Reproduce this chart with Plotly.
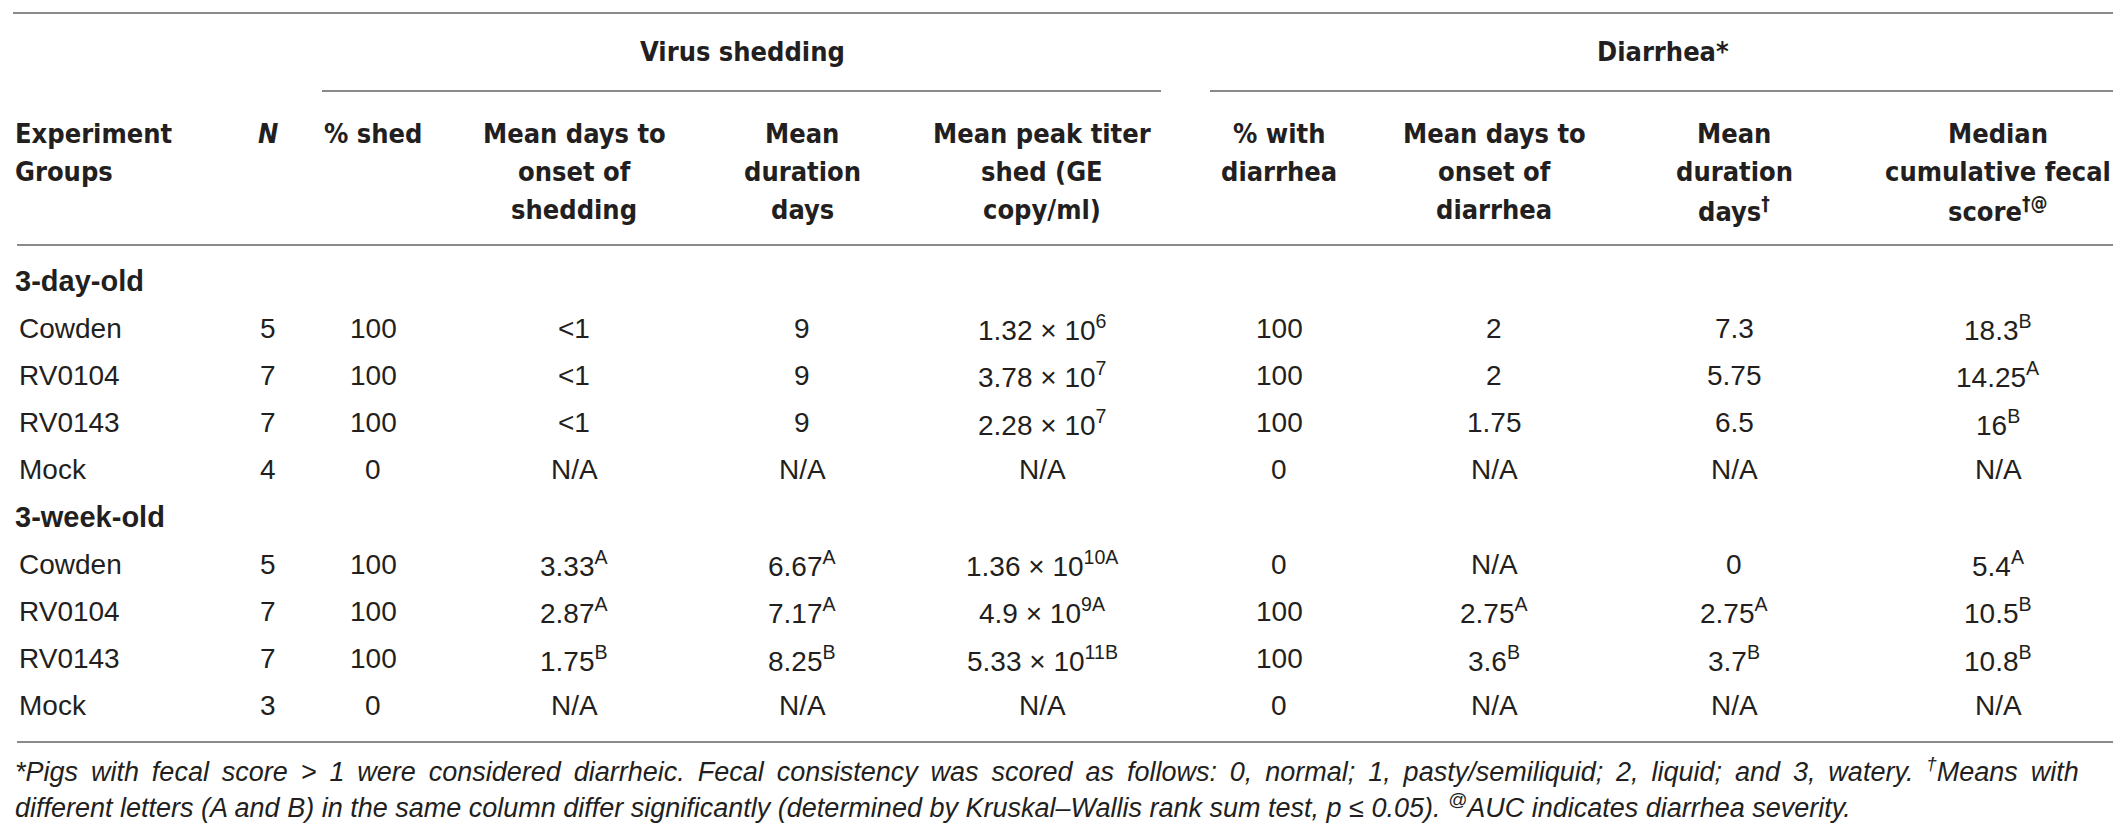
import plotly.graph_objects as go

# 表格数据
groups = ["3-day-old", "3-week-old"]
strains = ["Cowden", "RV0104", "RV0143", "Mock"]

n_pigs = [["5", "7", "7", "4"], ["5", "7", "7", "3"]]
pct_shed = [["100", "100", "100", "0"], ["100", "100", "100", "0"]]
onset_shed = [["&lt;1", "&lt;1", "&lt;1", "N/A"],
              ["3.33<sup>A</sup>", "2.87<sup>A</sup>", "1.75<sup>B</sup>", "N/A"]]
duration_shed = [["9", "9", "9", "N/A"],
                 ["6.67<sup>A</sup>", "7.17<sup>A</sup>", "8.25<sup>B</sup>", "N/A"]]
peak_titer = [["1.32 × 10<sup>6</sup>", "3.78 × 10<sup>7</sup>", "2.28 × 10<sup>7</sup>", "N/A"],
              ["1.36 × 10<sup>10A</sup>", "4.9 × 10<sup>9A</sup>", "5.33 × 10<sup>11B</sup>", "N/A"]]
pct_diarrhea = [["100", "100", "100", "0"], ["0", "100", "100", "0"]]
onset_diarrhea = [["2", "2", "1.75", "N/A"],
                  ["N/A", "2.75<sup>A</sup>", "3.6<sup>B</sup>", "N/A"]]
duration_diarrhea = [["7.3", "5.75", "6.5", "N/A"],
                     ["0", "2.75<sup>A</sup>", "3.7<sup>B</sup>", "N/A"]]
fecal_score = [["18.3<sup>B</sup>", "14.25<sup>A</sup>", "16<sup>B</sup>", "N/A"],
               ["5.4<sup>A</sup>", "10.5<sup>B</sup>", "10.8<sup>B</sup>", "N/A"]]

headers = [
    ["Experiment", "Groups"],
    ["<i>N</i>"],
    ["% shed"],
    ["Mean days to", "onset of", "shedding"],
    ["Mean", "duration", "days"],
    ["Mean peak titer", "shed (GE", "copy/ml)"],
    ["% with", "diarrhea"],
    ["Mean days to", "onset of", "diarrhea"],
    ["Mean", "duration", "days<sup>†</sup>"],
    ["Median", "cumulative fecal", "score<sup>†@</sup>"],
]
columns = [n_pigs, pct_shed, onset_shed, duration_shed, peak_titer,
           pct_diarrhea, onset_diarrhea, duration_diarrhea, fecal_score]

footnotes = [
    "*Pigs with fecal score > 1 were considered diarrheic. Fecal consistency was scored as follows: "
    "0, normal; 1, pasty/semiliquid; 2, liquid; and 3, watery. <sup>†</sup>Means with",
    "different letters (A and B) in the same column differ significantly (determined by "
    "Kruskal–Wallis rank sum test, <i>p</i> ≤ 0.05). <sup>@</sup>AUC indicates diarrhea severity.",
]

# 版式
W, H = 2121, 826
col_x = [5, 260, 365, 566, 794, 1034, 1271, 1486, 1726, 1990]
ink = "#231f20"
rule = "#8a8a8a"
head_font = dict(family="Liberation Sans Narrow, DejaVu Sans Condensed, Arial", size=27, color=ink)
body_font = dict(family="Liberation Sans, Arial", size=28, color=ink)
group_font = dict(family="Liberation Sans, Arial", size=29, color=ink)
foot_font = dict(family="Liberation Sans, Arial", size=27, color=ink)
row_top, row_step = 273, 47.2

fig = go.Figure()
ann = []

# 分组大标题
ann.append(dict(x=734, y=43, text="<b>Virus shedding</b>", font=head_font))
ann.append(dict(x=1655, y=43, text="<b>Diarrhea*</b>", font=head_font))

# 列标题
for i, lines in enumerate(headers):
    for j, line in enumerate(lines):
        ann.append(dict(x=col_x[i], y=125 + j * 38, text="<b>" + line + "</b>",
                        xanchor="left" if i == 0 else "center", font=head_font))

# 数据行
r = 0
for g, grp in enumerate(groups):
    ann.append(dict(x=col_x[0], y=row_top + r * row_step, text="<b>" + grp + "</b>",
                    xanchor="left", font=group_font))
    r += 1
    for s, name in enumerate(strains):
        y = row_top + r * row_step
        ann.append(dict(x=col_x[0] + 4, y=y, text=name, xanchor="left", font=body_font))
        for c, col in enumerate(columns):
            ann.append(dict(x=col_x[c + 1], y=y, text=col[g][s], font=body_font))
        r += 1

# 脚注 (第一行两端对齐: 词间加细空格)
for k, txt in enumerate(footnotes):
    if k == 0:
        txt = txt.replace(" ", " \u2009")
    ann.append(dict(x=5, y=762 + k * 36, text="<i>" + txt + "</i>", xanchor="left",
                    font=foot_font))

for a in ann:
    a.setdefault("xanchor", "center")
    a.update(xref="x", yref="y", yanchor="middle", showarrow=False)

# 横线
def hline(x0, x1, y):
    return dict(type="line", xref="x", yref="y", x0=x0, x1=x1, y0=y, y1=y,
                line=dict(color=rule, width=2))

shapes = [hline(5, 2115, 5), hline(314, 1153, 83), hline(1202, 2113, 83),
          hline(9, 2115, 237), hline(9, 2115, 734)]

fig.update_layout(
    width=W, height=H,
    margin=dict(l=0, r=0, t=0, b=0),
    paper_bgcolor="white", plot_bgcolor="white",
    xaxis=dict(range=[0, W], visible=False, fixedrange=True),
    yaxis=dict(range=[H, 0], visible=False, fixedrange=True),
    annotations=ann, shapes=shapes, showlegend=False,
)

fig.write_html("out.html")
